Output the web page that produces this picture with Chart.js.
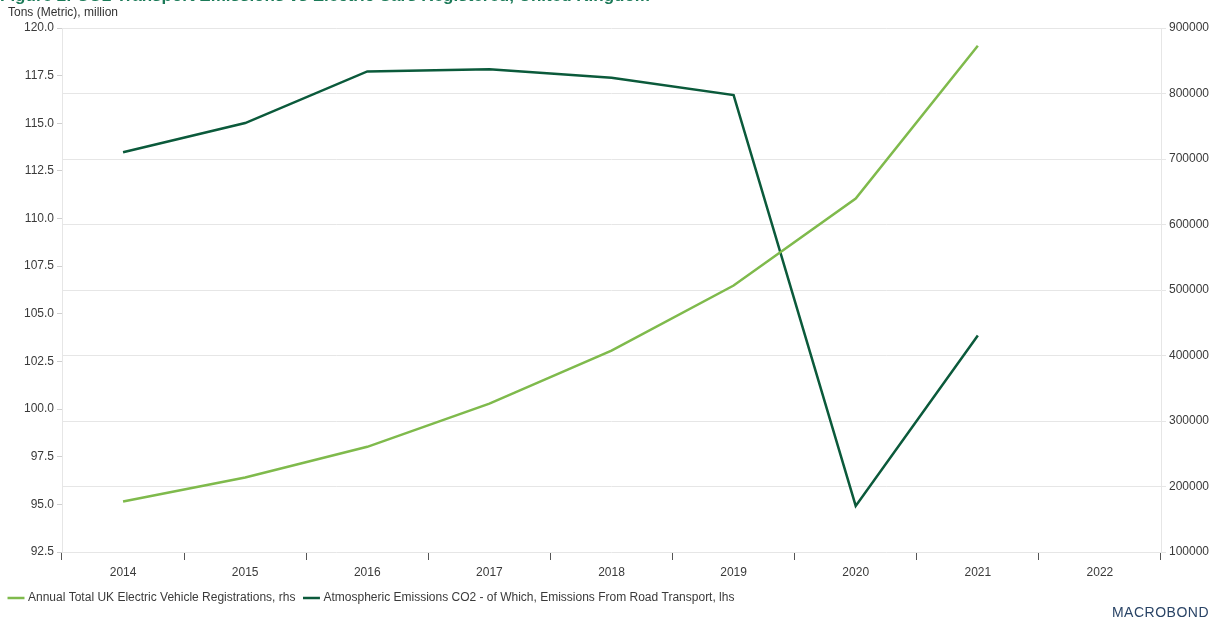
<!DOCTYPE html>
<html>
<head>
<meta charset="utf-8">
<script src="https://cdn.jsdelivr.net/npm/chart.js@4.4.0/dist/chart.umd.min.js"></script>
<style>
  html, body { margin: 0; padding: 0; background: #fff; overflow: hidden; }
  #wrap { position: relative; width: 1215px; height: 624px; font-family: "Liberation Sans", Arial, sans-serif; }
  #titulo { position: absolute; left: 0; top: -13px; font-size: 17px; line-height: 17px; font-weight: bold; color: #1b7a58; white-space: nowrap; }
  #unidad { position: absolute; left: 8px; top: 5px; font-size: 12px; color: #333; }
  #logo { position: absolute; right: 6px; top: 604px; font-size: 14px; letter-spacing: 0.5px; color: #2a4466; }
</style>
</head>
<body>
<div id="wrap">
  <canvas id="grafico" width="1215" height="624"></canvas>
  <div id="titulo">Figure 2: CO2 Transport Emissions vs Electric Cars Registered, United Kingdom</div>
  <div id="unidad">Tons (Metric), million</div>
  <div id="logo">MACROBOND</div>
</div>
<script>
var anios = ['2014', '2015', '2016', '2017', '2018', '2019', '2020', '2021', '2022'];
var registrosEV = [177000, 213700, 260600, 326400, 407500, 506900, 639500, 872900, null];
var emisionesCO2 = [113.48, 115.01, 117.72, 117.83, 117.39, 116.48, 94.92, 103.86, null];
var nombreEV = 'Annual Total UK Electric Vehicle Registrations, rhs';
var nombreCO2 = 'Atmospheric Emissions CO2 - of Which, Emissions From Road Transport, lhs';

var colorClaro = '#7fba4c';
var colorOscuro = '#0b5a3b';
var colorTexto = '#3a3a3a';
var colorGrid = '#e6e6e6';

Chart.defaults.font.family = '"Liberation Sans", Arial, sans-serif';
Chart.defaults.font.size = 12;
Chart.defaults.color = colorTexto;

var ctx = document.getElementById('grafico').getContext('2d');

new Chart(ctx, {
  type: 'line',
  data: {
    labels: anios,
    datasets: [{
      label: nombreEV,
      data: registrosEV,
      yAxisID: 'yDer',
      borderColor: colorClaro,
      backgroundColor: colorClaro,
      borderWidth: 2.5,
      pointRadius: 0,
      tension: 0
    }, {
      label: nombreCO2,
      data: emisionesCO2,
      yAxisID: 'yIzq',
      borderColor: colorOscuro,
      backgroundColor: colorOscuro,
      borderWidth: 2.5,
      pointRadius: 0,
      tension: 0
    }]
  },
  options: {
    responsive: false,
    animation: false,
    layout: {
      padding: { top: 28, left: 0, right: 0, bottom: 10 }
    },
    plugins: {
      tooltip: { enabled: false },
      legend: {
        position: 'bottom',
        align: 'start',
        labels: {
          usePointStyle: true,
          pointStyle: 'line',
          boxWidth: 14,
          padding: 10,
          color: colorTexto,
          font: { size: 12 }
        }
      }
    },
    scales: {
      x: {
        type: 'category',
        offset: true,
        grid: {
          offset: true,
          drawOnChartArea: false,
          tickLength: 8,
          color: '#555'
        },
        border: { display: false },
        ticks: { padding: 5, maxRotation: 0, color: colorTexto },
        afterFit: function(escala) { escala.height = 30; }
      },
      yIzq: {
        position: 'left',
        min: 92.5,
        max: 120,
        ticks: {
          stepSize: 2.5,
          padding: 3,
          color: colorTexto,
          callback: function(valor) { return valor.toFixed(1); }
        },
        grid: { drawOnChartArea: false, tickLength: 5, color: '#cfcfcf' },
        border: { display: true, color: colorGrid },
        afterFit: function(escala) { escala.width = 62; }
      },
      yDer: {
        position: 'right',
        min: 100000,
        max: 900000,
        ticks: {
          stepSize: 100000,
          padding: 3,
          color: colorTexto,
          callback: function(valor) { return String(valor); }
        },
        grid: { color: colorGrid, tickLength: 5 },
        border: { display: true, color: colorGrid },
        afterFit: function(escala) { escala.width = 54; }
      }
    }
  }
});
</script>
</body>
</html>
